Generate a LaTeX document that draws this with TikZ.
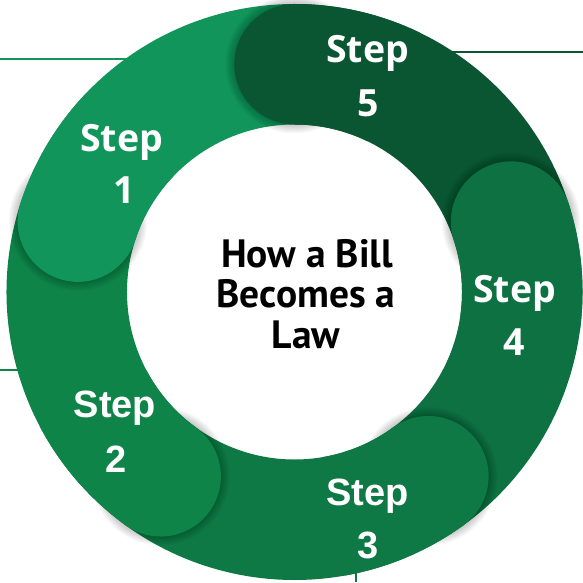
\documentclass[tikz,border=0pt]{standalone}
\usepackage{fontspec}
\setmainfont{Open Sans}
\newfontfamily\stepfontA{Open Sans}
\newfontfamily\stepfontB{Liberation Sans}
\newfontfamily\titlefont{PT Sans}
\definecolor{cA}{HTML}{11955A}
\definecolor{cB}{HTML}{0F8449}
\definecolor{cC}{HTML}{0E7944}
\definecolor{cD}{HTML}{0E7142}
\definecolor{cE}{HTML}{0A5632}
\newcommand\ringsector[3]{\fill[#1] (#2:288pt) arc[start angle=#2, end angle=#3, radius=288pt] -- (#3:167.5pt) arc[start angle=#3, end angle=#2, radius=167.5pt] -- cycle;}
\newcommand\ringcap[2]{%
  \foreach \i in {1,...,9} \fill[black, opacity=0.022] (#2:227.75pt) circle[radius={(60.25+\i)*1pt}];
  \pgfmathsetmacro\capstart{#2-26}
  \ringsector{#1}{\capstart}{#2}
  \fill[#1] (#2:227.75pt) circle[radius=60.25pt];}
\tikzset{
  steptxtA/.style={font=\stepfontA\bfseries\fontsize{37.5}{40}\selectfont, text=white, anchor=base, inner sep=0pt},
  steptxtB/.style={font=\stepfontB\bfseries\fontsize{38}{40}\selectfont, text=white, anchor=base, inner sep=0pt},
  titletxt/.style={font=\titlefont\bfseries\fontsize{39.5}{42}\selectfont, text=black, anchor=base, inner sep=0pt},
  leader/.style={line width=1.2pt}
}
\begin{document}
\begin{tikzpicture}[x=1pt,y=1pt]
\useasboundingbox[fill=white] (0,0) rectangle (583,582);
% leader lines behind the ring
\coordinate (la1) at (0,523); \coordinate (la2) at (150,523);
\coordinate (lb1) at (430,530); \coordinate (lb2) at (583,530);
\coordinate (lc1) at (0,212); \coordinate (lc2) at (40,212);
\coordinate (ld1) at (356,0); \coordinate (ld2) at (356,40);
\draw[leader, cA] (la1) -- (la2);
\draw[leader, cE] (lb1) -- (lb2);
\draw[leader, cB] (lc1) -- (lc2);
\draw[leader, cC] (ld1) -- (ld2);
\begin{scope}[shift={(294.5,290)}]
  \ringsector{cA}{90}{162}
  \ringsector{cB}{162}{234}
  \ringsector{cC}{234}{306}
  \ringsector{cD}{306}{378}
  \ringsector{cE}{378}{450}
  \ringcap{cA}{162}
  \ringcap{cB}{234}
  \ringcap{cC}{306}
  \ringcap{cD}{378}
  \ringcap{cE}{450}
\end{scope}
% step labels
\node[steptxtA] (s1a) at (121.5,430) {Step};
\node[steptxtA] (s1b) at (124,379) {1};
\node[steptxtB] (s2a) at (115,165) {Step};
\node[steptxtB] (s2b) at (116,110) {2};
\node[steptxtB] (s3a) at (367.5,77) {Step};
\node[steptxtB] (s3b) at (368,24) {3};
\node[steptxtA] (s4a) at (514.5,280) {Step};
\node[steptxtA] (s4b) at (514,227) {4};
\node[steptxtA] (s5a) at (367.5,519) {Step};
\node[steptxtA] (s5b) at (368,465) {5};
% title
\node[titletxt] (t1) at (307,315) {How a Bill};
\node[titletxt] (t2) at (306,275) {Becomes a};
\node[titletxt] (t3) at (306,234) {Law};
\end{tikzpicture}
\end{document}
